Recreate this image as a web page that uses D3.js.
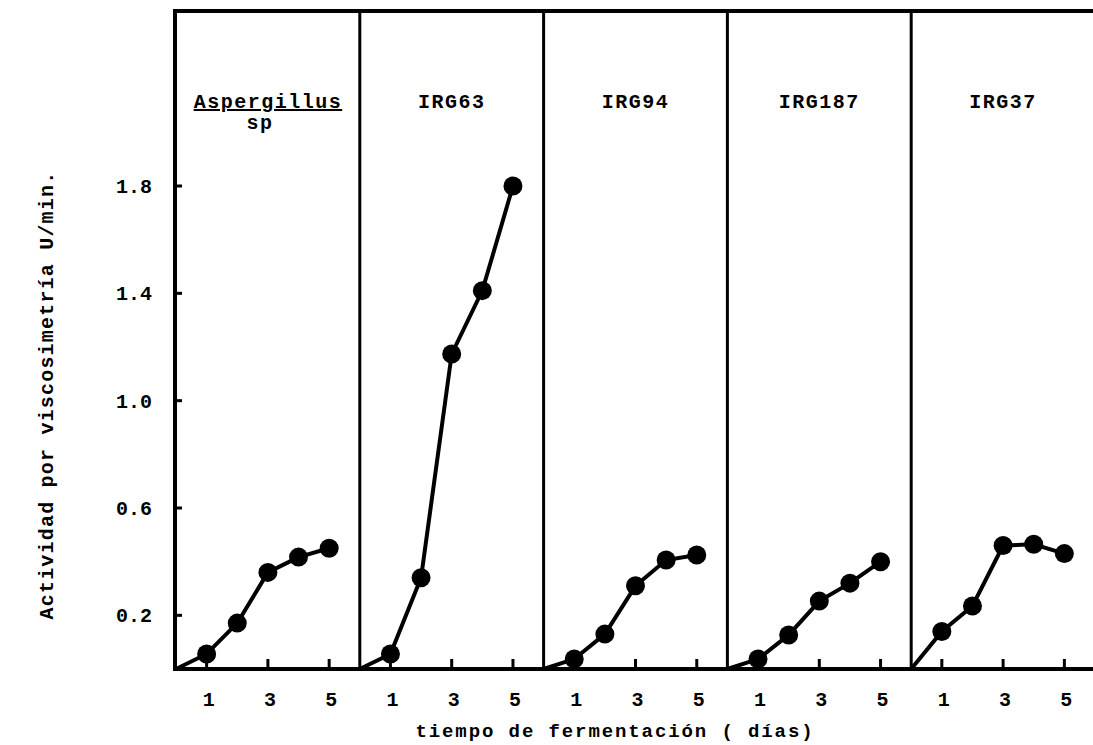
<!DOCTYPE html>
<html>
<head>
<meta charset="utf-8">
<script src="https://cdn.jsdelivr.net/npm/d3@7"></script>
<style>
    body { margin: 0; background: white; }
    svg text { font-family: "Liberation Mono", "DejaVu Sans Mono", monospace; font-weight: bold; fill: black; }
</style>
</head>
<body>
<svg width="1093" height="745"></svg>
<script>
// Strains, one panel each
var strains = ["Aspergillus", "IRG63", "IRG94", "IRG187", "IRG37"];
var days = [1, 2, 3, 4, 5];

// Activity values (U/min) per day
var aspergillusValues = [0.056, 0.171, 0.36, 0.417, 0.45];
var irg63Values = [0.056, 0.34, 1.174, 1.41, 1.80];
var irg94Values = [0.037, 0.13, 0.31, 0.406, 0.425];
var irg187Values = [0.037, 0.127, 0.253, 0.32, 0.40];
var irg37Values = [0.14, 0.235, 0.46, 0.465, 0.43];

var yTicks = [0.2, 0.6, 1.0, 1.4, 1.8];
var xTicks = [1, 3, 5];

var seriesValues = [aspergillusValues, irg63Values, irg94Values, irg187Values, irg37Values];

var svg = d3.select("svg");

var panelScale = d3.scaleBand().domain(strains).range([176, 1095]);
var xScale = d3.scaleLinear().domain([0, 6]).range([0, panelScale.bandwidth()]);
var yScale = d3.scaleLinear().domain([0, 1.8]).range([669, 186]);

var frameTop = 11;

// Top frame line
svg.append("line")
    .attr("x1", 173)
    .attr("x2", 1093)
    .attr("y1", frameTop)
    .attr("y2", frameTop)
    .style("stroke", "black")
    .style("stroke-width", 4);

// Left axis
svg.append("line")
    .attr("x1", 175)
    .attr("x2", 175)
    .attr("y1", frameTop)
    .attr("y2", yScale(0))
    .style("stroke", "black")
    .style("stroke-width", 4);

// Panel dividers
svg.selectAll("line.divider")
    .data(strains.slice(1))
    .enter()
    .append("line")
    .attr("class", "divider")
    .attr("x1", d => panelScale(d))
    .attr("x2", d => panelScale(d))
    .attr("y1", frameTop)
    .attr("y2", yScale(0))
    .style("stroke", "black")
    .style("stroke-width", 3);

// Bottom axis
svg.append("line")
    .attr("x1", 173)
    .attr("x2", 1093)
    .attr("y1", yScale(0))
    .attr("y2", yScale(0))
    .style("stroke", "black")
    .style("stroke-width", 4);

// Y ticks and labels
svg.selectAll("line.ytick")
    .data(yTicks)
    .enter()
    .append("line")
    .attr("class", "ytick")
    .attr("x1", 175)
    .attr("x2", 182)
    .attr("y1", d => yScale(d))
    .attr("y2", d => yScale(d))
    .style("stroke", "black")
    .style("stroke-width", 3);

svg.selectAll("text.ylabel")
    .data(yTicks)
    .enter()
    .append("text")
    .attr("class", "ylabel")
    .attr("x", 152)
    .attr("y", d => yScale(d))
    .attr("dy", "0.35em")
    .attr("text-anchor", "end")
    .style("font-size", "20px")
    .text(d => d.toFixed(1));

// Y axis title
svg.append("text")
    .attr("transform", "translate(46,395) rotate(-90)")
    .attr("text-anchor", "middle")
    .attr("dy", "0.35em")
    .style("font-size", "20px")
    .style("letter-spacing", "1.2px")
    .text("Actividad por viscosimetría U/min.");

// X axis title
svg.append("text")
    .attr("x", 615)
    .attr("y", 730)
    .attr("dy", "0.35em")
    .attr("text-anchor", "middle")
    .style("font-size", "19px")
    .style("letter-spacing", "1.9px")
    .text("tiempo de fermentación ( días)");

var line = d3.line()
    .x(d => xScale(d.day))
    .y(d => yScale(d.value));

strains.forEach(function (strain, i) {
    var g = svg.append("g").attr("transform", "translate(" + panelScale(strain) + ",0)");
    var points = [{ day: 0, value: 0 }].concat(days.map((d, j) => ({ day: d, value: seriesValues[i][j] })));

    // X ticks
    g.selectAll("line.xtick")
        .data(xTicks)
        .enter()
        .append("line")
        .attr("x1", d => xScale(d))
        .attr("x2", d => xScale(d))
        .attr("y1", yScale(0))
        .attr("y2", yScale(0) - 10)
        .style("stroke", "black")
        .style("stroke-width", 3);

    g.selectAll("text.xlabel")
        .data(xTicks)
        .enter()
        .append("text")
        .attr("x", d => xScale(d) + 2)
        .attr("y", 699)
        .attr("dy", "0.35em")
        .attr("text-anchor", "middle")
        .style("font-size", "20px")
        .text(d => d);

    g.append("path")
        .attr("d", line(points))
        .attr("fill", "none")
        .attr("stroke", "black")
        .attr("stroke-width", 4);

    g.selectAll("circle")
        .data(points.slice(1))
        .enter()
        .append("circle")
        .attr("cx", d => xScale(d.day))
        .attr("cy", d => yScale(d.value))
        .attr("r", 9.5)
        .attr("fill", "black");

    // Panel title
    g.append("text")
        .attr("x", panelScale.bandwidth() / 2)
        .attr("y", 101)
        .attr("dy", "0.35em")
        .attr("text-anchor", "middle")
        .style("font-size", "20px")
        .style("letter-spacing", "1.5px")
        .style("text-decoration", i === 0 ? "underline" : null)
        .text(strain);

    if (i === 0) {
        g.append("text")
            .attr("x", panelScale.bandwidth() / 2 - 8)
            .attr("y", 122)
            .attr("dy", "0.35em")
            .attr("text-anchor", "middle")
            .style("font-size", "20px")
            .style("letter-spacing", "1.5px")
            .text("sp");
    }
});
</script>
</body>
</html>
